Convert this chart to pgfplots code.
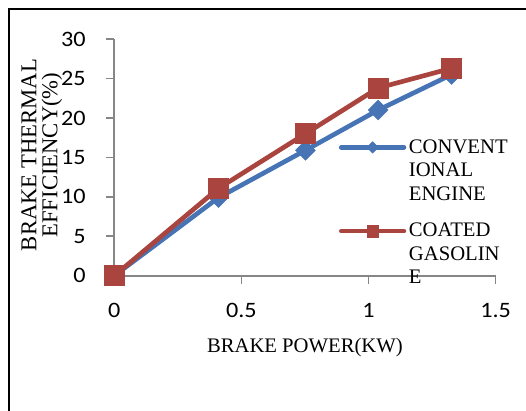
\documentclass[border=0pt]{standalone}
\usepackage{pgfplots}
\pgfplotsset{compat=1.18}
\usepackage{fontspec}
\setmainfont{Liberation Serif}
\newfontfamily\calibri[FakeStretch=1.1]{Carlito}
\definecolor{eblue}{HTML}{4674B5}
\definecolor{ered}{HTML}{A9443F}
\definecolor{axgray}{HTML}{868686}
\begin{document}
\begin{tikzpicture}
\useasboundingbox (0,0) rectangle (394.5pt,-308.25pt);
\draw[line width=1.5pt] (6.4pt,-312pt) -- (6.4pt,-6.4pt) -- (398pt,-6.4pt);
\begin{axis}[
  at={(85.7pt,-206.8pt)}, anchor=south west,
  scale only axis, width=286pt, height=177.5pt,
  xmin=0, xmax=1.5, ymin=0, ymax=30,
  clip=false,
  axis x line*=bottom, axis y line*=left,
  axis line style={draw=axgray, line width=1.2pt},
  xtick={0,0.5,1,1.5}, ytick={0,5,10,15,20,25,30},
  tick align=outside, major tick length=6pt,
  tick style={draw=axgray, line width=1.2pt},
  /pgf/number format/assume math mode=true,
  tick label style={font=\calibri\fontsize{16.5}{19}\selectfont},
  xticklabel style={yshift=-11pt},
  yticklabel style={xshift=-12pt},
  xlabel={BRAKE POWER(KW)},
  xlabel style={font=\fontsize{15.5}{18}\selectfont, at={(axis description cs:0.5,-0.304)}, anchor=center},
  ylabel={BRAKE THERMAL\\EFFICIENCY(\%)},
  ylabel style={font=\fontsize{17}{15.75}\selectfont, align=center, at={(axis description cs:-0.19,0.51)}, anchor=center, rotate=0},
  legend style={draw=none, fill=none, at={(axis description cs:0.578,0.599)}, anchor=north west,
    font=\fontsize{15.5}{17.6}\selectfont, row sep=47pt},
  legend cell align=left,
]
\addplot[eblue, line width=3.5pt, mark=square*, mark size=5.2pt,
  mark options={solid, rotate=45, line width=0.5pt},
  legend image code/.code={\draw[line cap=round, mark repeat=2, mark phase=2, mark size=3pt] plot coordinates {(0pt,0pt) (23.5pt,0pt) (47pt,0pt)};}]
  coordinates {(0,0) (0.41,9.9) (0.752,15.9) (1.038,21.0) (1.327,25.5)};
\addlegendentry{\vtop{\hbox{CONVENT}\hbox{IONAL}\hbox{ENGINE}}}
\addplot[ered, line width=3.5pt, mark=square*, mark size=7.5pt,
  mark options={solid, line width=0.5pt},
  legend image code/.code={\draw[line cap=round, mark repeat=2, mark phase=2, mark size=4.3pt] plot coordinates {(0pt,0pt) (23.5pt,0pt) (47pt,0pt)};}]
  coordinates {(0,0) (0.411,11.1) (0.752,18.0) (1.038,23.8) (1.327,26.3)};
\addlegendentry{\vtop{\hbox{COATED}\hbox{GASOLIN}\hbox{E}}}
\end{axis}
\end{tikzpicture}
\end{document}
